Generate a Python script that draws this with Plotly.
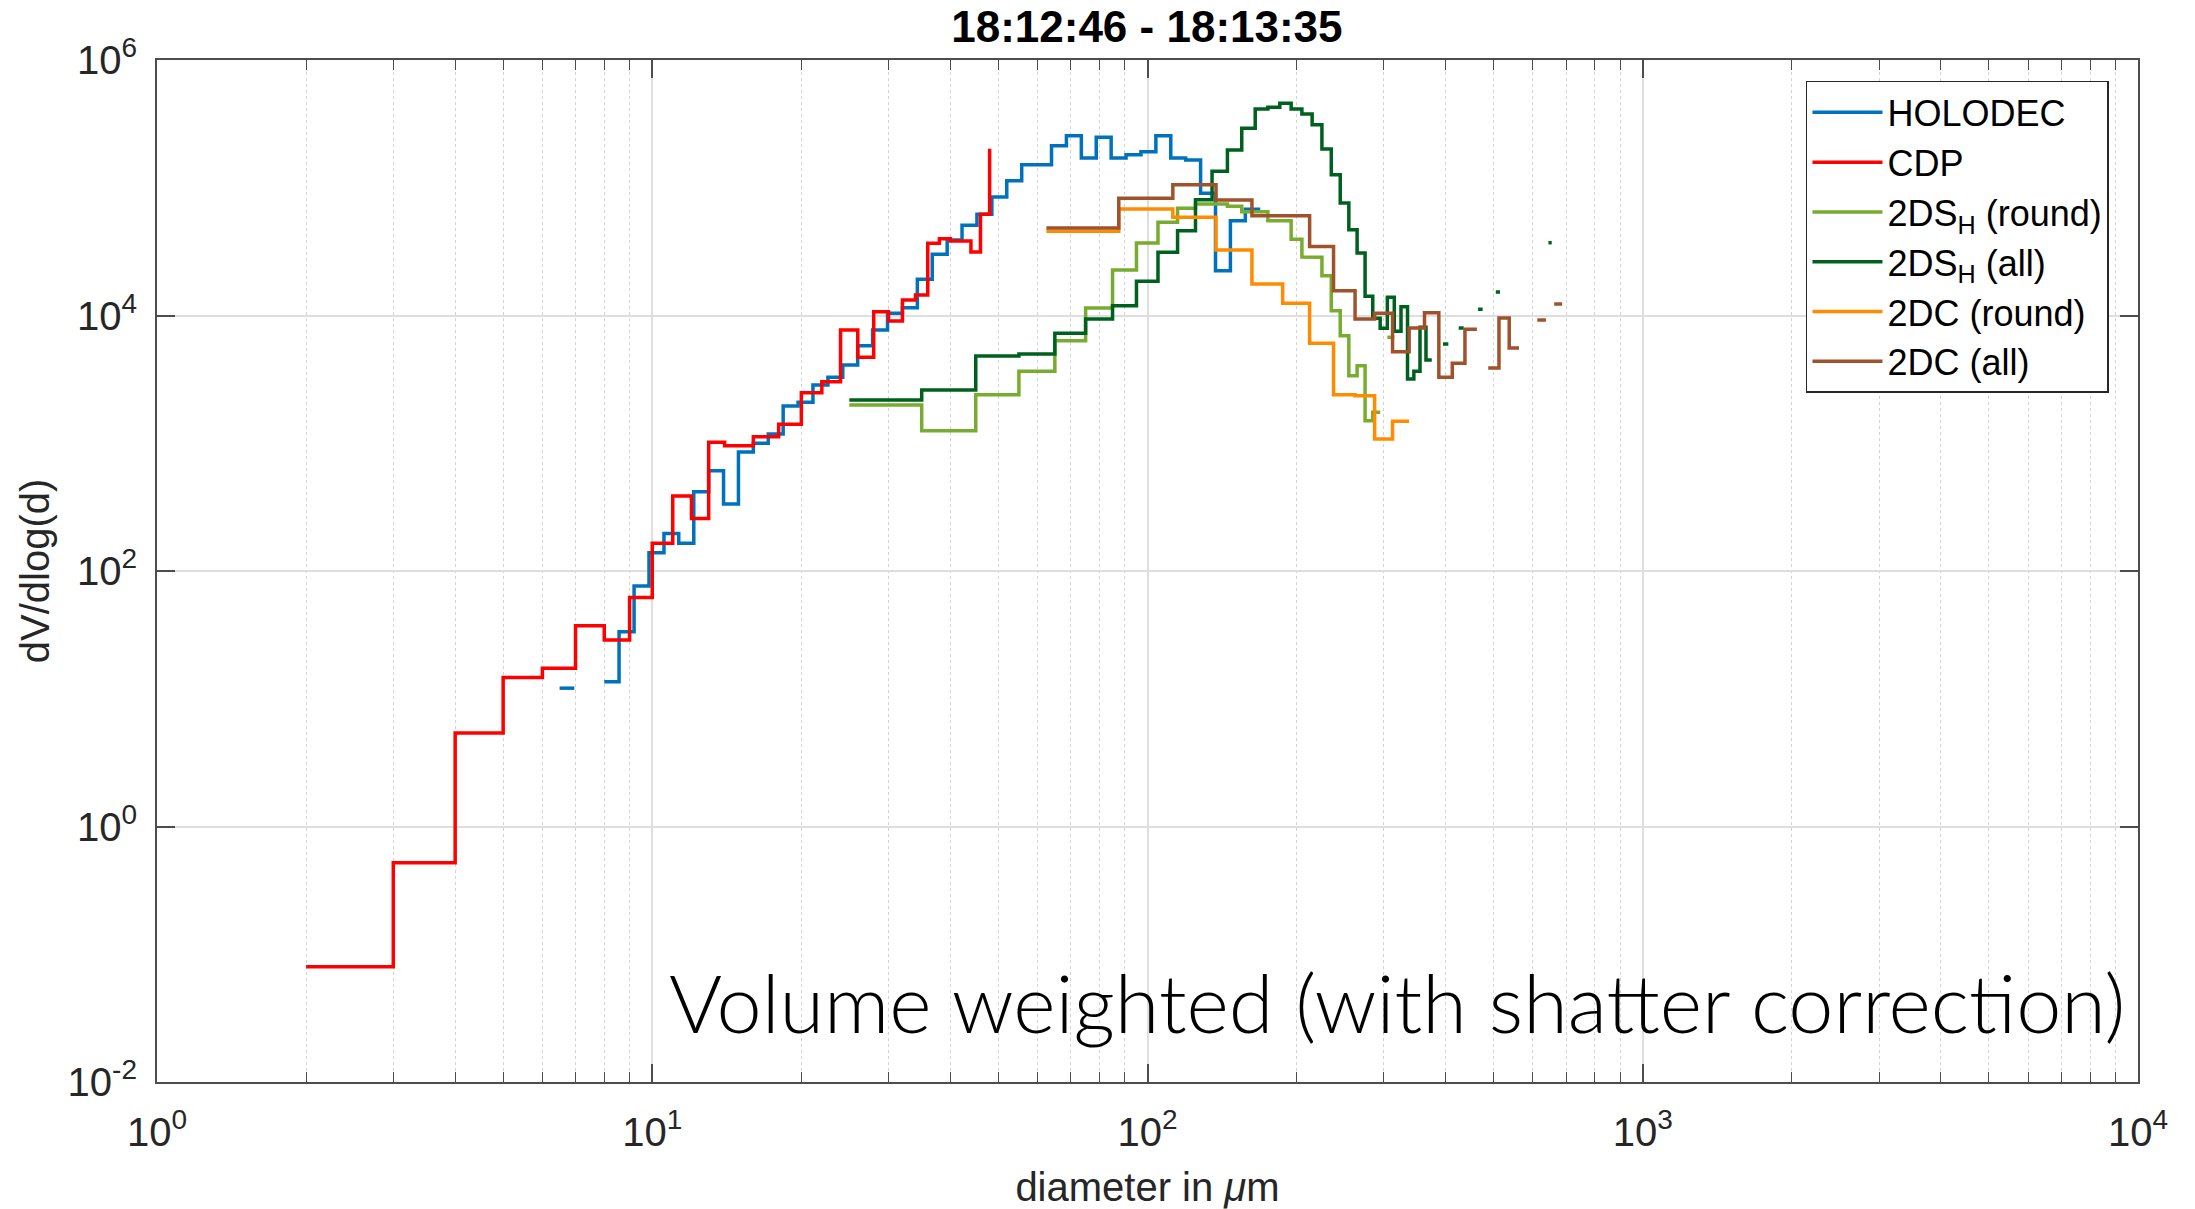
import math
import plotly.graph_objects as go

nan = float("nan")

# ---------------- data (bin left edges, dV/dlog(d) values) ----------------
holodec_edges = [6.50, 6.96, 7.46, 8.00, 8.57, 9.19, 9.85, 10.56, 11.31, 12.13, 13.00, 13.93,
                 14.93, 16.00, 17.15, 18.38, 19.70, 21.11, 22.63, 24.25, 25.99, 27.86, 29.86,
                 32.00, 34.30, 36.76, 39.40, 42.22, 45.25, 48.50, 51.98, 55.72, 59.71, 64.00,
                 68.59, 73.52, 78.79, 84.45, 90.51, 97.01, 103.97, 111.43, 119.43, 128.00,
                 137.19, 147.03, 157.59, 168.90]
holodec_vals = [12.1, nan, nan, 13.6, 33.5, 76.3, 139, 197, 165, 418, 610, 334,
                854, 1000, 1181, 1958, 2092, 2858, 3283, 4100, 5800, 7700, 10400,
                11500, 19200, 30100, 39000, 50800, 62000, 84700, 113500, 151500, 151500, 213500,
                255500, 171000, 248400, 171000, 181500, 191500, 255500, 171000, 164900, 90500,
                22430, 55200, 67800, nan]

cdp_edges = [2, 3, 4, 5, 6, 7, 8, 9, 10, 11, 12, 13, 14, 16, 18, 20, 22, 24, 26, 28,
             30, 32, 34, 36, 38, 40, 42, 44, 46, 48]
cdp_vals = [0.08, 0.52, 5.4, 14.7, 17.3, 37.3, 28.8, 62, 165, 386, 258, 1017, 957, 1125,
            1407, 2490, 3030, 7700, 4710, 10700, 9060, 13200, 14500, 36700, 39900, 38300,
            38300, 31400, 62000, 202000]

ds_round_edges = [25, 35, 45, 55, 65, 75, 85, 95, 105, 115, 125, 135, 145, 155, 165, 175,
                  185, 195, 205, 215, 225, 235, 245, 255, 265, 275, 285, 295, 305, 315]
ds_round_vals = [1992, 1254, 2399, 3660, 6350, 11450, 22700, 36900, 53700, 69000, 74600,
                 74600, 71500, 64900, 64900, 55200, 55200, 39500, 28700, 28560, 20500, 10900,
                 6950, 3380, 4050, 1502, 1747, nan, 6750, nan]

ds_all_edges = [25, 35, 45, 55, 65, 75, 85, 95, 105, 115, 125, 135, 145, 155, 165, 175, 185,
                195, 205, 215, 225, 235, 245, 255, 265, 275, 285, 295, 305, 315, 325, 335,
                345, 355, 365, 375, 385, 395, 405, 415, 425, 435, 445, 455, 465, 475, 485,
                495, 505, 515, 525, 535, 545, 555, 565, 575, 585, 595, 605, 615, 625, 635,
                645, 655]
ds_all_vals = [2180, 2610, 4820, 5000, 7260, 9390, 11930, 18520, 31240, 46100, 80600, 134500,
               197600, 291800, 413300, 426600, 458200, 413300, 377800, 311700, 201000, 126500,
               76000, 46950, 30840, 14130, 9510, 7940, 13880, 7520, 11720, 3185, 3660, 8090,
               4480, nan, nan, 5980, nan, nan, 7980, nan, nan, nan, 11190, nan, nan, nan,
               15270, nan, nan, nan, nan, nan, nan, nan, nan, nan, nan, nan, nan, nan,
               37150, nan]

dc_edges = [62.5, 87.5, 112.5, 137.5, 162.5, 187.5, 212.5, 237.5, 262.5, 287.5, 312.5, 337.5,
            362.5, 387.5, 412.5, 437.5, 462.5, 487.5, 512.5, 537.5, 562.5, 587.5, 612.5, 637.5,
            662.5, 687.5]
dc_round_vals = [45600, 68200, 58700, 32570, 17650, 12470, 6060, 2400, 2355, 1080, 1485, nan,
                 nan, nan, nan, nan, nan, nan, nan, nan, nan, nan, nan, nan, nan, nan]
dc_all_vals = [48400, 82700, 105700, 80200, 60400, 60400, 34700, 15640, 9390, 10400, 5210, 7980,
               10520, 3283, 4225, 7800, nan, 3880, 9550, 5570, nan, nan, 9220, nan, 12300, nan]

series_names = ["HOLODEC", "CDP", "2DS<sub>H</sub> (round)", "2DS<sub>H</sub> (all)",
                "2DC (round)", "2DC (all)"]
series_colors = ["#0072BD", "#FF0000", "#77AC30", "#00601E", "#FF8C00", "#A0522D"]

x_tick_vals = [1, 10, 100, 1000, 10000]
x_tick_text = ["10<sup>0</sup>", "10<sup>1</sup>", "10<sup>2</sup>", "10<sup>3</sup>", "10<sup>4</sup>"]
y_tick_vals = [1e-2, 1, 1e2, 1e4, 1e6]
y_tick_text = ["10<sup>-2</sup>", "10<sup>0</sup>", "10<sup>2</sup>", "10<sup>4</sup>", "10<sup>6</sup>"]

title_text = "<b>18:12:46 - 18:13:35</b>"
note_text = "Volume weighted (with shatter correction)"


def stairs(edges, vals):
    """MATLAB-style stairs expansion: horizontal at each value up to the next edge."""
    xs, ys = [], []
    n = len(edges)
    for i in range(n):
        v = vals[i]
        if v is None or (isinstance(v, float) and math.isnan(v)):
            v = None
        xs.append(edges[i])
        ys.append(v)
        if i < n - 1:
            xs.append(edges[i + 1])
            ys.append(v)
    return xs, ys


data = [
    (holodec_edges, holodec_vals),
    (cdp_edges, cdp_vals),
    (ds_round_edges, ds_round_vals),
    (ds_all_edges, ds_all_vals),
    (dc_edges, dc_round_vals),
    (dc_edges, dc_all_vals),
]

fig = go.Figure()
for (edges, vals), name, color in zip(data, series_names, series_colors):
    xs, ys = stairs(edges, vals)
    fig.add_trace(go.Scatter(x=xs, y=ys, mode="lines", name=name,
                             line=dict(color=color, width=3.5),
                             connectgaps=False))

FONT = "Liberation Sans, Arial, sans-serif"
AX = "#4d4d4d"

fig.update_layout(
    width=2195, height=1209,
    margin=dict(l=157, r=57, t=60, b=127, autoexpand=False),
    paper_bgcolor="white", plot_bgcolor="white",
    font=dict(family=FONT, color="#262626", size=38),
    title=dict(text=title_text, x=0.5225, xanchor="center", y=0.978, yanchor="middle",
               font=dict(family=FONT, size=44, color="#000000")),
    showlegend=True,
    legend=dict(x=0.8324, y=0.9795, xanchor="left", yanchor="top",
                bgcolor="white", bordercolor="#262626", borderwidth=1.5,
                font=dict(family=FONT, size=36, color="#000000"),
                itemwidth=70, tracegroupgap=0),
    annotations=[dict(text=note_text, xref="paper", yref="paper", x=0.9944, y=0.079,
                      xanchor="right", yanchor="middle", showarrow=False,
                      font=dict(family="Lato, Open Sans, sans-serif", size=81,
                                color="#000000", weight=300))],
)

fig.update_xaxes(
    type="log", range=[0, 4], automargin=False,
    tickmode="array", tickvals=x_tick_vals, ticktext=x_tick_text,
    ticks="inside", ticklen=18, tickwidth=1.5, tickcolor=AX,
    showline=True, linecolor=AX, linewidth=2, mirror="ticks",
    showgrid=True, gridcolor="#dedede", gridwidth=1.5,
    minor=dict(dtick="D1", showgrid=True, gridcolor="#d2d2d2", griddash="dot",
               gridwidth=1.2, ticks="inside", ticklen=10, tickcolor=AX, tickwidth=1.2),
    tickfont=dict(family=FONT, size=40, color="#262626"),
    ticklabelstandoff=14,
    title=dict(text="diameter in <i>μ</i>m", font=dict(family=FONT, size=40, color="#262626"),
               standoff=22),
    zeroline=False,
)
fig.update_yaxes(
    type="log", range=[-2, 6], automargin=False,
    tickmode="array", tickvals=y_tick_vals, ticktext=y_tick_text,
    ticks="inside", ticklen=18, tickwidth=1.5, tickcolor=AX,
    showline=True, linecolor=AX, linewidth=2, mirror="ticks",
    showgrid=True, gridcolor="#dedede", gridwidth=1.5,
    tickfont=dict(family=FONT, size=40, color="#262626"),
    ticklabelstandoff=10,
    title=dict(text="dV/dlog(d)", font=dict(family=FONT, size=40, color="#262626"),
               standoff=6),
    zeroline=False,
)

fig.write_html("out.html")
